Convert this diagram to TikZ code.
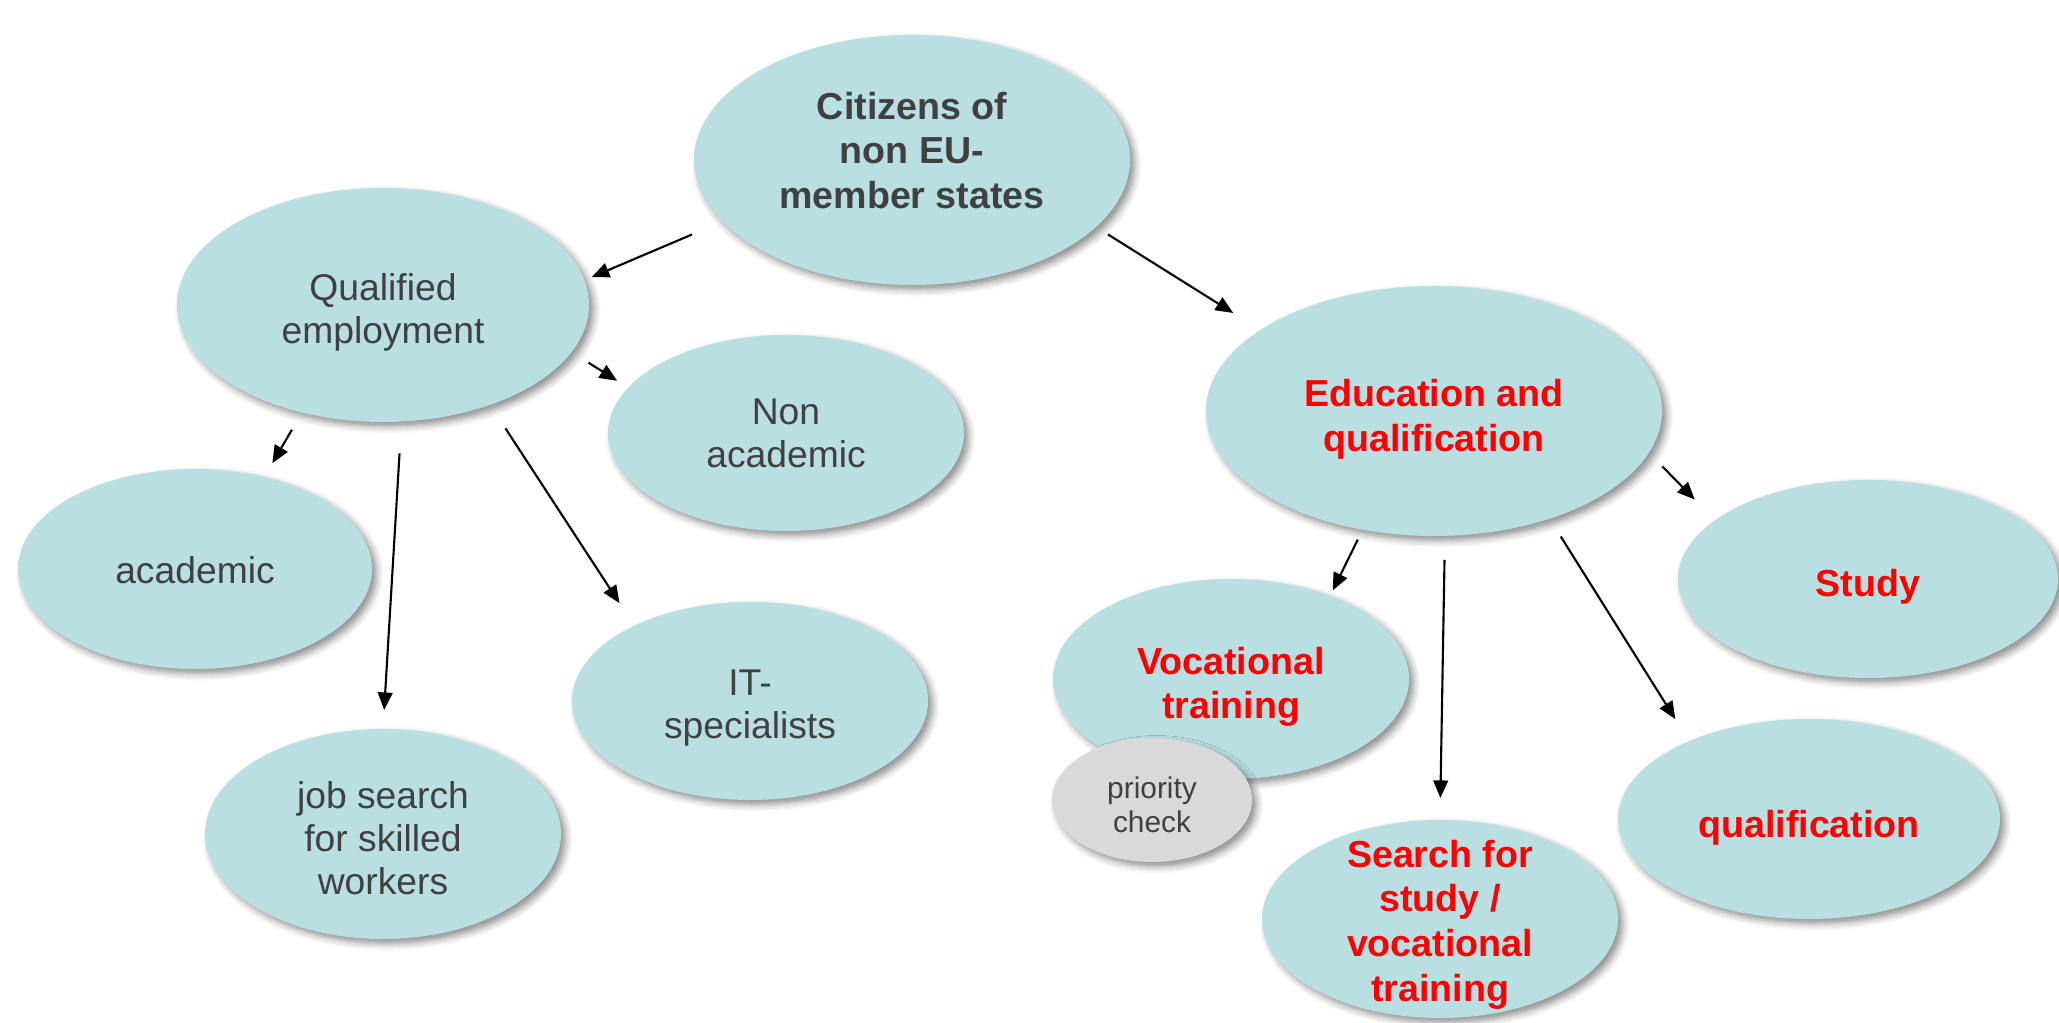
\documentclass[tikz,border=0pt]{standalone}
\usepackage{fontspec}
\setmainfont{Liberation Sans}
\usetikzlibrary{shapes.geometric,arrows.meta,shadows.blur}

\definecolor{bubblefill}{HTML}{B9DFE3}
\definecolor{bubbletext}{HTML}{404040}
\definecolor{checkfill}{HTML}{D9D9D9}
\definecolor{keyred}{HTML}{FF0000}

% text lines of a bubble, kept out of the ellipse size
\newcommand{\btext}[2][-5.2pt]{\raisebox{#1}[0pt][0pt]{\begin{tabular}{@{}c@{}}#2\end{tabular}}}

\tikzset{
  bubble/.style={ellipse, fill=bubblefill, text=bubbletext,
    inner sep=0pt, outer sep=0pt,
    blur shadow={shadow xshift=1.3pt, shadow yshift=-1.3pt,
      shadow blur radius=2pt, shadow opacity=45},
    font=\fontsize{10.6}{12.3}\selectfont},
  rootbubble/.style={bubble, font=\fontsize{10.7}{12.7}\selectfont\bfseries},
  redbubble/.style={bubble, text=keyred, font=\fontsize{10.7}{12.7}\selectfont\bfseries},
  checkbubble/.style={bubble, fill=checkfill, font=\fontsize{8.5}{9.8}\selectfont},
  link/.style={-{Triangle[length=5pt,width=4.2pt]}, line width=0.6pt, black}
}

\begin{document}
\begin{tikzpicture}
      \useasboundingbox (0,0) rectangle (20.59,10.23);
      \draw
        (9.12,8.63) node[rootbubble, minimum width=4.36cm, minimum height=2.50cm] (citizens){\btext[-1.3pt]{Citizens of\\non EU-\\member states}}
        (3.83,7.18) node[bubble, minimum width=4.12cm, minimum height=2.34cm] (qual){\btext{Qualified\\employment}}
        (7.86,5.90) node[bubble, minimum width=3.56cm, minimum height=1.96cm] (nonacad){\btext[-4pt]{Non\\academic}}
        (1.95,4.54) node[bubble, minimum width=3.54cm, minimum height=2.00cm] (acad){\btext[-4.5pt]{academic}}
        (7.50,3.22) node[bubble, minimum width=3.56cm, minimum height=1.98cm] (itspec){\btext[-4.8pt]{IT-\\specialists}}
        (3.83,1.89) node[bubble, minimum width=3.56cm, minimum height=2.10cm] (jobsearch){\btext{job search\\for skilled\\workers}}
        (14.34,6.12) node[redbubble, minimum width=4.56cm, minimum height=2.50cm] (edu){\btext[-5.4pt]{Education and\\qualification}}
        (18.68,4.44) node[redbubble, minimum width=3.80cm, minimum height=1.98cm] (study){\btext[-5.2pt]{Study}}
        (12.31,3.44) node[redbubble, minimum width=3.56cm, minimum height=2.00cm] (voc){\btext[-5.2pt]{Vocational\\training}}
        (11.52,2.23) node[checkbubble, minimum width=2.00cm, minimum height=1.24cm] (check){\btext[-4.4pt]{priority\\check}}
        (14.40,1.04) node[redbubble, minimum width=3.56cm, minimum height=1.98cm] (search){\btext[-4.5pt]{Search for\\study /\\vocational\\training}}
        (18.09,2.04) node[redbubble, minimum width=3.82cm, minimum height=2.00cm] (qualif){\btext[-5.6pt]{qualification}};
      \begin{scope}[link]
        \draw[shorten <=0.33cm, shorten >=0.08cm] (citizens.198.5) to (qual.7.4);
        \draw[shorten <=0.14cm, shorten >=0.32cm] (citizens.-20.2) to (edu.155.4);
        \draw[shorten <=0.20cm, shorten >=0.13cm] (qual.-14.5) to (nonacad.164);
        \draw[shorten <=0.20cm, shorten >=0.16cm] (qual.-127.6) to (acad.53);
        \draw[shorten <=0.32cm, shorten >=0.19cm] (qual.-81.7) to (jobsearch.90.5);
        \draw[shorten <=0.28cm, shorten >=0.27cm] (qual.-43.5) to (itspec.147.9);
        \draw[shorten <=0.11cm, shorten >=0.06cm] (edu.-121.8) to (voc.40.3);
        \draw[shorten <=0.24cm, shorten >=0.22cm] (edu.-85.2) to (search.90.9);
        \draw[shorten <=0.21cm, shorten >=0.26cm] (edu.-43.6) to (qualif.147.1);
        \draw[shorten <=0.19cm, shorten >=0.29cm] (edu.-11.1) to (study.159.3);
      \end{scope}
    \end{tikzpicture}
\end{document}
